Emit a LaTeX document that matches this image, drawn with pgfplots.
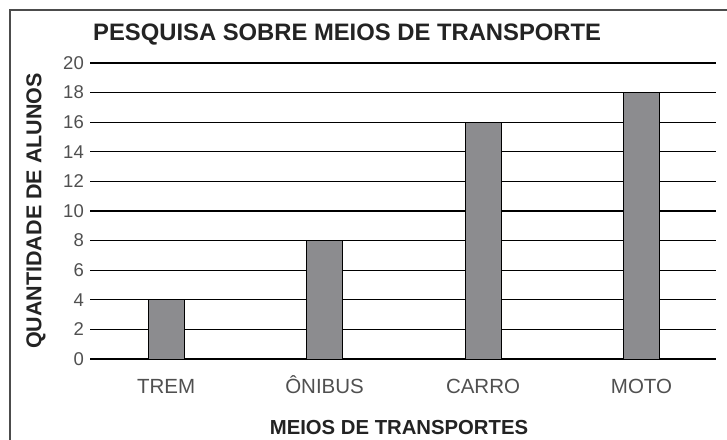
\documentclass[border=0pt]{standalone}
\usepackage{fontspec}
\setmainfont{Liberation Sans}
\usepackage{pgfplots}
\pgfplotsset{compat=1.18}
\definecolor{barfill}{RGB}{140,140,143}
\definecolor{txt}{RGB}{35,35,35}
\definecolor{ticktxt}{RGB}{80,80,80}
\begin{document}
\begin{tikzpicture}
\useasboundingbox (0,0) rectangle (727pt,439pt);
\fill[white] (0,0) rectangle (727pt,439pt);
\draw[line width=1.5pt, color=black!70] (10pt,-2pt) -- (10pt,429pt) -- (729pt,429pt);
\begin{axis}[
  at={(90pt,80pt)}, anchor=south west,
  scale only axis, width=626pt, height=296pt,
  xmin=-0.48, xmax=3.47, ymin=0, ymax=20,
  ytick={0,2,...,20}, xtick={0,1,2,3},
  xticklabels={TREM,ÔNIBUS,CARRO,MOTO},
  ymajorgrids, grid style={black, line width=1.3pt},
  axis line style={draw=none}, major tick style={draw=none},
  ybar, bar width=36pt,
  /pgf/number format/assume math mode=true,
  yticklabel style={font=\fontsize{18.5}{20}\selectfont, text=ticktxt, inner sep=0pt, xshift=-6pt},
  xticklabel style={font=\fontsize{20.5}{22}\selectfont, text=ticktxt, inner sep=0pt, anchor=center, text height=0.716em, text depth=0pt, yshift=-27pt},
]
\addplot[fill=barfill, draw=black, line width=1pt] coordinates {(0,4) (1,8) (2,16) (3,18)};
\end{axis}
\node[anchor=west, inner sep=0pt, text=txt, font=\bfseries\fontsize{23.8}{25}\selectfont] at (93pt,404pt) {PESQUISA SOBRE MEIOS DE TRANSPORTE};
\node[rotate=90, inner sep=0pt, text=txt, font=\bfseries\fontsize{21.5}{23}\selectfont] at (36pt,228pt) {QUANTIDADE DE ALUNOS};
\node[inner sep=0pt, text=txt, font=\bfseries\fontsize{20.3}{22}\selectfont] at (399pt,11.5pt) {MEIOS DE TRANSPORTES};
\end{tikzpicture}
\end{document}
